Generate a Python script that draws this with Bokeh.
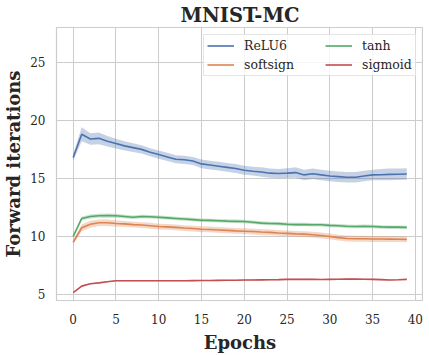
import numpy as np
from bokeh.plotting import figure
from bokeh.models import Legend, LegendItem, FixedTicker, Range1d
from bokeh.embed import file_html
from bokeh.resources import INLINE

epochs = list(range(40))
relu6 = [16.8, 18.8, 18.4, 18.45, 18.2, 18.0, 17.8, 17.65, 17.5, 17.25, 17.05, 16.85, 16.65, 16.6, 16.5, 16.25,
         16.15, 16.05, 15.95, 15.85, 15.7, 15.62, 15.55, 15.45, 15.42, 15.45, 15.5, 15.3, 15.4, 15.3, 15.2,
         15.15, 15.1, 15.1, 15.2, 15.3, 15.32, 15.35, 15.36, 15.38]
relu6_sd = [0.3, 0.6, 0.5, 0.5, 0.45, 0.42, 0.4, 0.38, 0.36, 0.35, 0.35, 0.35, 0.35, 0.35, 0.35, 0.38,
            0.38, 0.38, 0.38, 0.38, 0.38, 0.38, 0.4, 0.4, 0.4, 0.42, 0.45, 0.45, 0.45, 0.45, 0.45,
            0.45, 0.45, 0.45, 0.45, 0.45, 0.48, 0.5, 0.5, 0.5]
tanh = [10.0, 11.55, 11.72, 11.78, 11.8, 11.78, 11.72, 11.65, 11.72, 11.7, 11.65, 11.6, 11.55, 11.5, 11.45, 11.4,
        11.38, 11.35, 11.32, 11.3, 11.28, 11.22, 11.15, 11.12, 11.1, 11.05, 11.02, 11.02, 11.0, 11.0, 10.95,
        10.92, 10.88, 10.85, 10.88, 10.85, 10.82, 10.8, 10.8, 10.78]
tanh_sd = [0.1, 0.15, 0.18, 0.18, 0.18, 0.18, 0.15, 0.15, 0.15, 0.15, 0.15, 0.15, 0.15, 0.15, 0.15, 0.15,
           0.15, 0.15, 0.15, 0.15, 0.15, 0.15, 0.15, 0.15, 0.15, 0.15, 0.15, 0.15, 0.15, 0.15, 0.15,
           0.15, 0.15, 0.15, 0.15, 0.15, 0.15, 0.15, 0.15, 0.15]
softsign = [9.5, 10.75, 11.05, 11.18, 11.18, 11.12, 11.08, 11.02, 10.98, 10.92, 10.85, 10.82, 10.78, 10.72, 10.68, 10.62,
            10.6, 10.56, 10.52, 10.48, 10.45, 10.42, 10.38, 10.35, 10.3, 10.26, 10.22, 10.2, 10.15, 10.08, 10.0,
            9.9, 9.82, 9.8, 9.8, 9.78, 9.78, 9.77, 9.76, 9.75]
softsign_sd = [0.15, 0.3, 0.3, 0.28, 0.28, 0.28, 0.25, 0.25, 0.25, 0.25, 0.25, 0.25, 0.25, 0.25, 0.25, 0.25,
               0.25, 0.25, 0.25, 0.25, 0.25, 0.25, 0.25, 0.25, 0.25, 0.25, 0.25, 0.25, 0.25, 0.25, 0.25,
               0.25, 0.25, 0.25, 0.25, 0.25, 0.25, 0.25, 0.25, 0.25]
sigmoid = [5.15, 5.72, 5.92, 6.0, 6.1, 6.18, 6.18, 6.18, 6.18, 6.18, 6.18, 6.18, 6.18, 6.18, 6.19, 6.2,
           6.2, 6.21, 6.22, 6.22, 6.24, 6.25, 6.26, 6.27, 6.28, 6.3, 6.3, 6.3, 6.3, 6.29, 6.3,
           6.31, 6.33, 6.32, 6.31, 6.3, 6.28, 6.25, 6.27, 6.3]
sigmoid_sd = [0.05] * 40

names = ["ReLU6", "softsign", "tanh", "sigmoid"]
colors = ["#4c72b0", "#dd8452", "#55a868", "#c44e52"]
series = [relu6, softsign, tanh, sigmoid]
sds = [relu6_sd, softsign_sd, tanh_sd, sigmoid_sd]

FONT = "DejaVu Serif"
TXT = "#262626"

p = figure(frame_width=367, frame_height=273, output_backend="svg", toolbar_location=None,
           x_range=Range1d(-1.95, 40.95), y_range=Range1d(4.48, 28.0),
           min_border_left=46, min_border_right=0, min_border_top=20, min_border_bottom=46)

items = {}
for name, col, ys, sd in zip(names, colors, series, sds):
    y = np.array(ys)
    s = np.array(sd)
    p.varea(x=epochs, y1=y - s, y2=y + s, fill_color=col, fill_alpha=0.32)
    r = p.line(x=epochs, y=ys, line_color=col, line_width=1.6)
    items[name] = r


def make_legend(labels, label_width, boxed, margin):
    lg = Legend(items=[LegendItem(label=n, renderers=[items[n]]) for n in labels], location="top_right")
    lg.label_text_font = FONT
    lg.label_text_font_size = "12.5px"
    lg.label_text_color = TXT
    lg.glyph_width = 27
    lg.glyph_height = 15
    lg.label_height = 15
    lg.label_width = label_width
    lg.label_standoff = 10
    lg.spacing = 4
    lg.padding = 3
    lg.margin = margin
    if boxed:
        lg.border_line_color = "#cccccc"
        lg.border_line_width = 1
        lg.background_fill_alpha = 0.8
    else:
        lg.border_line_color = None
        lg.background_fill_alpha = 0.0
    return lg


# left column carries the frame of the whole legend; right column is drawn on top of it
p.add_layout(make_legend(["ReLU6", "softsign"], 168, True, 7))
p.add_layout(make_legend(["tanh", "sigmoid"], 50, False, 11))

p.title.text = "MNIST-MC"
p.title.align = "center"
p.title.text_font = FONT
p.title.text_font_size = "19.5px"
p.title.text_font_style = "bold"
p.title.text_color = TXT
p.title.standoff = 2

p.xaxis.axis_label = "Epochs"
p.yaxis.axis_label = "Forward iterations"
for ax in (p.xaxis[0], p.yaxis[0]):
    ax.axis_label_text_font = FONT
    ax.axis_label_text_font_size = "18px"
    ax.axis_label_text_font_style = "bold"
    ax.axis_label_text_color = TXT
    ax.major_label_text_font = FONT
    ax.major_label_text_font_size = "12px"
    ax.major_label_text_color = TXT
    ax.axis_line_color = None
    ax.major_tick_line_color = None
    ax.minor_tick_line_color = None
p.xaxis.axis_label_standoff = 5
p.xaxis.major_label_standoff = 7
p.yaxis.axis_label_standoff = 3
p.yaxis.major_label_standoff = 5

p.xaxis.ticker = FixedTicker(ticks=[0, 5, 10, 15, 20, 25, 30, 35, 40])
p.yaxis.ticker = FixedTicker(ticks=[5, 10, 15, 20, 25])

p.xgrid.grid_line_color = "#cccccc"
p.ygrid.grid_line_color = "#cccccc"
p.outline_line_color = "#cccccc"
p.outline_line_width = 1.2

open("out.html", "w").write(file_html(p, INLINE))
